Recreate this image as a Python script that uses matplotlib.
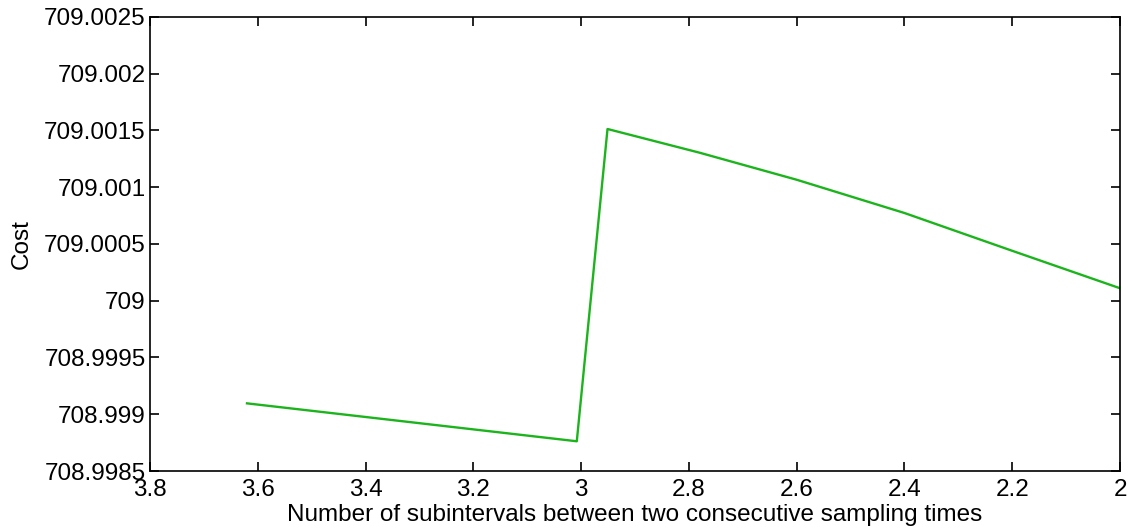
import numpy as np
import matplotlib
matplotlib.use('Agg')
import matplotlib.pyplot as plt

plt.rcParams['font.family'] = ['Liberation Sans', 'DejaVu Sans']

# cost against number of subintervals (x axis runs from 3.8 down to 2)
n_sub = [3.62, 3.008, 2.951, 2.78, 2.6, 2.4, 2.2, 2.0]
cost = [708.999096, 708.998762, 709.001513, 709.001304, 709.001066,
        709.000773, 709.000440, 709.000110]

xticks = [3.8, 3.6, 3.4, 3.2, 3.0, 2.8, 2.6, 2.4, 2.2, 2.0]
xticklabels = ['3.8', '3.6', '3.4', '3.2', '3', '2.8', '2.6', '2.4', '2.2', '2']
yticks = [708.9985, 708.999, 708.9995, 709.0, 709.0005, 709.001, 709.0015, 709.002, 709.0025]
yticklabels = ['708.9985', '708.999', '708.9995', '709', '709.0005', '709.001', '709.0015', '709.002', '709.0025']

fig = plt.figure(figsize=(11.32, 5.30), dpi=100)
ax = fig.add_axes([0.1325, 0.1113, 0.8569, 0.8567])

ax.plot(n_sub, cost, color='#1cb41c', linewidth=1.7)

ax.set_xlim(3.8, 2.0)
ax.set_ylim(708.9985, 709.0025)
ax.set_xticks(xticks)
ax.set_xticklabels(xticklabels)
ax.set_yticks(yticks)
ax.set_yticklabels(yticklabels)

ax.tick_params(direction='in', length=6.5, width=1.2, labelsize=17.5,
               top=True, right=True)
ax.tick_params(axis='x', pad=6)
ax.tick_params(axis='y', pad=3)
for s in ax.spines.values():
    s.set_linewidth(1.2)

ax.set_xlabel('Number of subintervals between two consecutive sampling times',
              fontsize=17.5, labelpad=2)
ax.set_ylabel('Cost', fontsize=17.5, labelpad=8)

fig.savefig('out.png', dpi=100)
